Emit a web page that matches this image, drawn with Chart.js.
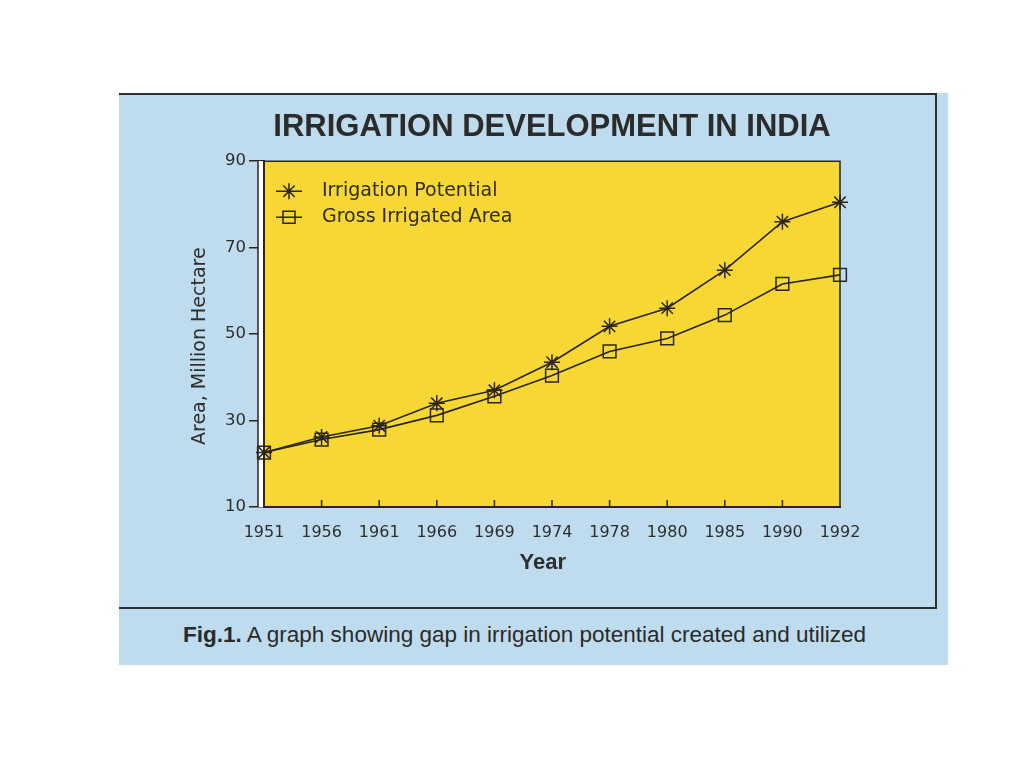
<!DOCTYPE html>
<html>
<head>
<meta charset="utf-8">
<script src="https://cdn.jsdelivr.net/npm/chart.js@4/dist/chart.umd.min.js"></script>
<style>
  body { margin: 0; background: #ffffff; }
  #panel { position: absolute; left: 119px; top: 93px; width: 829px; height: 572px; background: #bedcee; }
  #frame { position: absolute; left: 0; top: 0; width: 816px; height: 512px;
           border-top: 2px solid #2d2d2d; border-right: 2px solid #2d2d2d; border-bottom: 2px solid #2d2d2d; }
  #box { position: absolute; left: 0; top: 0; width: 818px; height: 514px; }
  #caption { position: absolute; left: -9px; top: 529px; width: 829px; text-align: center;
             font: 22.5px "Liberation Sans", Arial, sans-serif; color: #2a2a2a; }
</style>
</head>
<body>
<div id="panel">
  <div id="frame"></div>
  <div id="box"><canvas id="myChart"></canvas></div>
  <div id="caption"><b>Fig.1.</b> A graph showing gap in irrigation potential created and utilized</div>
</div>
<script>
// Datos
var years = ['1951', '1956', '1961', '1966', '1969', '1974', '1978', '1980', '1985', '1990', '1992']
var potential = [22.6, 26.2, 28.8, 34.0, 37.0, 43.5, 51.8, 56.0, 64.8, 76.0, 80.5]
var grossArea = [22.6, 25.6, 27.9, 31.2, 35.6, 40.4, 46.0, 49.0, 54.4, 61.6, 63.7]
var yMin = 10
var yMax = 90
var yStep = 20

// Colores
var inkColor = '#2b251d'
var textColor = '#2e2e2e'
var plotColor = '#f6d733'

// Fondo amarillo, franja blanca y marcas internas del eje X
var plotDecor = {
  id: 'plotDecor',
  beforeDraw: function(chart) {
    var a = chart.chartArea
    var ctx = chart.ctx
    ctx.save()
    ctx.fillStyle = plotColor
    ctx.fillRect(a.left, a.top, a.right - a.left, a.bottom - a.top)
    ctx.restore()
  },
  beforeDatasetsDraw: function(chart) {
    var a = chart.chartArea
    var ctx = chart.ctx
    var x = chart.scales.x
    ctx.save()
    ctx.fillStyle = '#ffffff'
    ctx.fillRect(a.left - 6, a.top, 5, a.bottom - a.top)
    ctx.strokeStyle = inkColor
    ctx.lineWidth = 1.5
    ctx.beginPath()
    ctx.moveTo(a.left - 6, a.top)
    ctx.lineTo(a.left - 6, a.bottom)
    // borde superior y derecho
    ctx.moveTo(a.left, a.top)
    ctx.lineTo(a.right, a.top)
    ctx.lineTo(a.right, a.bottom)
    // marcas hacia adentro
    for (var i = 1; i < years.length - 1; i++) {
      var px = x.getPixelForValue(i)
      ctx.moveTo(px, a.bottom)
      ctx.lineTo(px, a.bottom - 7)
    }
    ctx.stroke()
    ctx.restore()
  }
}

// Leyenda dibujada dentro del área del gráfico
var innerLegend = {
  id: 'innerLegend',
  afterDraw: function(chart) {
    var a = chart.chartArea
    var ctx = chart.ctx
    ctx.save()
    ctx.font = '19px "DejaVu Sans", sans-serif'
    ctx.textBaseline = 'middle'
    chart.data.datasets.forEach(function(ds, i) {
      var y = a.top + 30 + i * 26
      var cx = a.left + 25
      ctx.strokeStyle = inkColor
      ctx.lineWidth = 1.5
      ctx.beginPath()
      ctx.moveTo(cx - 13, y)
      ctx.lineTo(cx + 13, y)
      if (ds.pointStyle === 'star') {
        for (var k = 0; k < 4; k++) {
          var ang = k * Math.PI / 4
          ctx.moveTo(cx - 8 * Math.cos(ang), y - 8 * Math.sin(ang))
          ctx.lineTo(cx + 8 * Math.cos(ang), y + 8 * Math.sin(ang))
        }
      } else {
        ctx.rect(cx - 6, y - 6, 12, 12)
      }
      ctx.stroke()
      ctx.fillStyle = '#332b1c'
      ctx.fillText(ds.label, a.left + 58, y)
    })
    ctx.restore()
  }
}

var ctx = document.getElementById('myChart')

var chart = new Chart(ctx, {
  type: 'line',
  data: {
    labels: years,
    datasets: [
      {
        label: 'Irrigation Potential',
        data: potential,
        borderColor: inkColor,
        borderWidth: 1.6,
        pointStyle: 'star',
        pointRadius: 8,
        pointBorderColor: inkColor,
        pointBorderWidth: 1.5,
        pointBackgroundColor: 'rgba(0,0,0,0)',
        tension: 0,
        fill: false
      },
      {
        label: 'Gross Irrigated Area',
        data: grossArea,
        borderColor: inkColor,
        borderWidth: 1.6,
        pointStyle: 'rect',
        pointRadius: 9,
        pointBorderColor: inkColor,
        pointBorderWidth: 1.5,
        pointBackgroundColor: 'rgba(0,0,0,0)',
        tension: 0,
        fill: false
      }
    ]
  },
  options: {
    responsive: true,
    maintainAspectRatio: false,
    animation: false,
    layout: { padding: { left: 0, right: 97, top: 0, bottom: 0 } },
    plugins: {
      legend: { display: false },
      tooltip: { enabled: false },
      title: {
        display: true,
        text: 'IRRIGATION DEVELOPMENT IN INDIA',
        fullSize: false,
        color: '#2b2b2b',
        font: { family: '"Liberation Sans", Arial, sans-serif', size: 31, weight: 'bold' },
        padding: { top: 16, bottom: 15 }
      }
    },
    scales: {
      x: {
        offset: false,
        afterFit: function(s) { s.height = 100 },
        grid: { display: false },
        border: { display: true, color: inkColor, width: 2 },
        ticks: {
          color: textColor,
          padding: 8,
          maxRotation: 0,
          autoSkip: false,
          font: { family: '"DejaVu Sans", sans-serif', size: 16 }
        },
        title: {
          display: true,
          text: 'Year   ',
          color: textColor,
          font: { family: '"Liberation Sans", Arial, sans-serif', size: 22, weight: 'bold' },
          padding: { top: 0, bottom: 31 }
        }
      },
      y: {
        min: yMin,
        max: yMax,
        afterFit: function(s) { s.width = 145 },
        grid: { display: true, drawOnChartArea: false, drawTicks: true, tickLength: 15, color: inkColor, lineWidth: 1.5 },
        border: { display: true, color: inkColor, width: 2 },
        ticks: {
          stepSize: yStep,
          color: textColor,
          padding: 3,
          font: { family: '"DejaVu Sans", sans-serif', size: 16.5 }
        },
        title: {
          display: true,
          text: 'Area, Million Hectare    ',
          color: textColor,
          font: { family: '"DejaVu Sans", sans-serif', size: 19 },
          padding: { top: 70, bottom: 0 }
        }
      }
    }
  },
  plugins: [plotDecor, innerLegend]
})
</script>
</body>
</html>
